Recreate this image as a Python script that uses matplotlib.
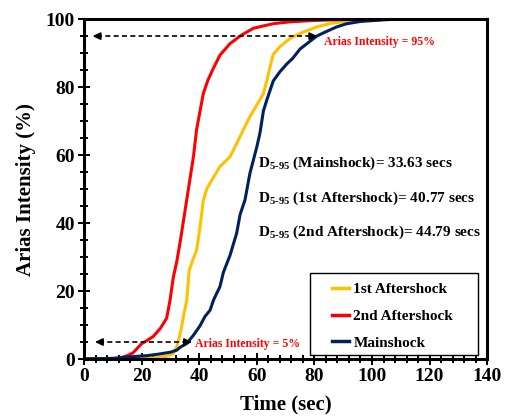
import matplotlib
matplotlib.use("Agg")
import matplotlib.pyplot as plt
from matplotlib.patches import Rectangle
from matplotlib.ticker import MultipleLocator

plt.rcParams.update({
    "font.family": ["Liberation Serif", "DejaVu Serif"],
    "font.weight": "bold",
    "mathtext.fontset": "custom",
    "mathtext.rm": "Liberation Serif:bold",
    "mathtext.bf": "Liberation Serif:bold",
    "mathtext.it": "Liberation Serif:bold",
})

# cumulative Arias intensity (%) against time (sec)
t_after1 = [0, 15, 22, 26, 28.7, 31, 32.2, 33, 33.9, 34.5, 35.7, 36.5, 37.5, 39.1,
            40.3, 41.4, 42.6, 44.9, 47.2, 50.7, 53.6, 55.3, 57.6, 60, 62.3, 63.5,
            64.6, 65.7, 68, 71.5, 75, 80.8, 86, 92.4, 104, 135]
ia_after1 = [0, 0, 0.2, 0.5, 0.8, 1.5, 3.6, 6, 9.5, 12.4, 17.4, 26, 28.5, 32,
             38.9, 46.5, 50, 53.4, 56.6, 59.5, 64.4, 67.4, 71.3, 74.7, 78.1, 82,
             86, 89.6, 91.9, 94.3, 95.8, 97.7, 98.8, 99.5, 99.9, 100]

t_after2 = [0, 10, 13, 15, 17, 20, 22, 24, 26.5, 28.7, 29.9, 31, 32.2, 33.5, 35.7,
            38, 39.1, 41.4, 43, 44.9, 47.2, 50.7, 54.5, 58.8, 62.3, 66, 71.5, 79.6,
            90, 135]
ia_after2 = [0, 0.1, 0.4, 1.0, 1.8, 4.5, 5.5, 6.6, 9, 12, 17.4, 24, 28.6, 35, 47,
             59.5, 67.5, 78, 82, 85.5, 89.4, 92.8, 95.2, 97.3, 98.0, 98.7, 99.2, 99.6,
             99.9, 100]

t_main = [0, 10, 17, 22, 26.4, 30, 32.2, 33.3, 35.7, 38, 40.3, 42, 43.8, 45, 47.2,
          48.4, 50.7, 53, 54.2, 55.9, 57.6, 60, 61.1, 62.3, 63.4, 65.7, 68, 70.4,
          72.5, 75, 80.8, 84, 87.7, 91, 95.8, 106, 135]
ia_main = [0, 0.2, 0.7, 1.0, 1.5, 2.0, 2.6, 3.4, 4.6, 7, 9.8, 12.5, 14.4, 17.4, 21.3,
           25.5, 30.5, 37, 42.5, 46.8, 54.6, 62.4, 66.5, 73, 76, 81.8, 84.5, 86.8,
           88.5, 91.2, 95, 96.3, 97.7, 98.6, 99.3, 99.9, 100]

durations = [("Mainshock", 33.63), ("1st Aftershock", 40.77), ("2nd Aftershock", 44.79)]

fig = plt.figure(figsize=(5.1, 4.16), dpi=100)
ax = fig.add_axes([0.1647, 0.137, 0.7906, 0.817])

ax.plot(t_after1, ia_after1, color="#FFC000", lw=2.2, label="1st Aftershock")
ax.plot(t_after2, ia_after2, color="#FF0000", lw=2.2, label="2nd Aftershock")
ax.plot(t_main, ia_main, color="#002060", lw=2.2, label="Mainshock")

# 5% and 95% reference arrows, dashed shaft with solid heads at both ends
dash = (0, (3, 2))
for y, x0, x1 in [(95, 3, 81), (5, 3.8, 37.5)]:
    ax.plot([x0 + 1.5, x1 - 1.5], [y, y], color="black", lw=1.2, ls=dash)
    for xa, xb in [(x0 + 2.5, x0), (x1 - 2.5, x1)]:
        ax.annotate("", xy=(xb, y), xytext=(xa, y),
                    arrowprops=dict(arrowstyle="-|>,head_length=0.45,head_width=0.22",
                                    color="black", lw=1.2, shrinkA=0, shrinkB=0))

ax.text(83.5, 93.2, "Arias Intensity = 95%", color="#FF0000", fontsize=8.5,
        fontweight="bold", va="center", ha="left")
ax.text(38.5, 4.4, "Arias Intensity = 5%", color="#FF0000", fontsize=8.5,
        fontweight="bold", va="center", ha="left")

for i, (name, d) in enumerate(durations):
    ax.text(60.5, 57.6 - 10.2 * i, r"$\mathbf{D_{5\text{-}95}}$" + f" ({name})= {d:.2f} secs",
            fontsize=11, fontweight="bold", va="center", ha="left")

ax.set_xlim(0, 140)
ax.set_ylim(0, 100)
ax.xaxis.set_major_locator(MultipleLocator(20))
ax.xaxis.set_minor_locator(MultipleLocator(4))
ax.yaxis.set_major_locator(MultipleLocator(20))
ax.yaxis.set_minor_locator(MultipleLocator(5))
ax.tick_params(which="both", direction="inout", width=1.4, top=False, right=False,
               labelsize=14)
ax.tick_params(which="major", length=9, pad=2)
ax.tick_params(which="minor", length=6)
for s in ax.spines.values():
    s.set_linewidth(2.2)

ax.set_xlabel("Time (sec)", fontsize=15, fontweight="bold")
ax.set_ylabel("Arias Intensity (%)", fontsize=15, fontweight="bold")
ax.xaxis.set_label_coords(0.5, -0.105)
ax.yaxis.set_label_coords(-0.12, 0.5)

# legend box drawn separately so it can be wider than the entries
ax.add_patch(Rectangle((0.561, 0.012), 0.417, 0.241, transform=ax.transAxes,
                       facecolor="white", edgecolor="black", lw=1.0, zorder=4))
leg = ax.legend(loc="upper left", bbox_to_anchor=(0.615, 0.225), fontsize=11,
                frameon=False, handlelength=1.1, handletextpad=0.3,
                labelspacing=0.85, borderpad=0, borderaxespad=0)
leg.set_zorder(5)
for line in leg.get_lines():
    line.set_linewidth(2.5)

fig.savefig("out.png", dpi=100)
